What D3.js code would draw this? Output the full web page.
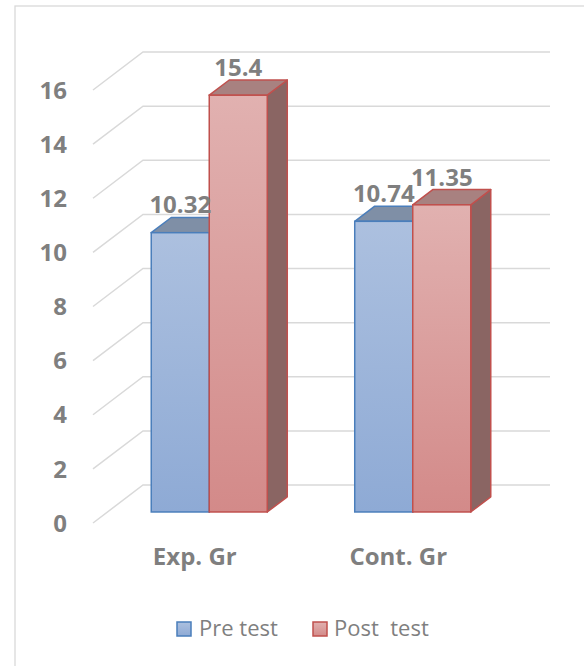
<!DOCTYPE html>
<html>
<head>
<meta charset="utf-8">
<script src="https://cdn.jsdelivr.net/npm/d3@7"></script>
<style>
  html, body { margin: 0; padding: 0; background: #ffffff; }
  svg { display: block; }
</style>
</head>
<body>
<svg id="chart" width="584" height="666"></svg>
<script>
const categories = ["Exp. Gr", "Cont. Gr"];
const seriesNames = ["Pre test", "Post  test"];
const preValues = [10.32, 10.74];
const postValues = [15.4, 11.35];
const valueLabels = [["10.32", "15.4"], ["10.74", "11.35"]];
const yTicks = [0, 2, 4, 6, 8, 10, 12, 14, 16];

const svg = d3.select("#chart");
const W = 584, H = 666;

// 3D projection parameters
const depthDx = 50, depthDy = -38;
const zFront = 0.29, zBack = 0.69;

const y = d3.scaleLinear().domain([0, 16]).range([523, 90]);
const x0 = d3.scaleBand().domain(categories).range([93, 500]).paddingInner(0).paddingOuter(0);
const x1 = d3.scaleBand().domain(seriesNames).range([0, x0.bandwidth()]).paddingInner(0).paddingOuter(0.754);

const textGray = "#7f7f7f";
const gridColor = "#d9d9d9";

// chart frame
svg.append("rect").attr("x", 15).attr("y", 6).attr("width", 620).attr("height", 700)
  .attr("fill", "#fff").attr("stroke", gridColor).attr("stroke-width", 1.3);

// gradients
const defs = svg.append("defs");
function grad(id, c1, c2) {
  const g = defs.append("linearGradient").attr("id", id).attr("x1", 0).attr("y1", 0).attr("x2", 0).attr("y2", 1);
  g.append("stop").attr("offset", "0%").attr("stop-color", c1);
  g.append("stop").attr("offset", "100%").attr("stop-color", c2);
}
grad("gPre", "#acc0df", "#8eaad5");
grad("gPost", "#e1b1b0", "#d38a89");

const styles = [
  { fill: "url(#gPre)", top: "#7f8fa6", side: "#6b7b94", stroke: "#4a7ebb" },
  { fill: "url(#gPost)", top: "#a88180", side: "#8a6563", stroke: "#c0504d" }
];

// gridlines
const gx0 = x0.range()[0], gx1 = x0.range()[1];
const grid = svg.append("g");
yTicks.forEach(t => {
  const yf = y(t);
  grid.append("path")
    .attr("d", `M${gx0},${yf} L${gx0 + depthDx},${yf + depthDy} L${gx1 + depthDx},${yf + depthDy}`)
    .attr("fill", "none").attr("stroke", gridColor).attr("stroke-width", 1.5);
});

// y tick labels
svg.append("g").selectAll("text").data(yTicks).join("text")
  .attr("x", 67).attr("y", d => y(d))
  .attr("dy", "0.36em")
  .attr("text-anchor", "end")
  .attr("font-family", "'Open Sans', sans-serif").attr("font-weight", 700)
  .attr("font-size", 24).attr("fill", textGray)
  .text(d => d);

// bars
const offX = zFront * depthDx, offY = zFront * depthDy;
const dX = (zBack - zFront) * depthDx, dY = (zBack - zFront) * depthDy;
const barsG = svg.append("g");
categories.forEach((cat, ci) => {
  const vals = [preValues[ci], postValues[ci]];
  vals.forEach((v, si) => {
    const st = styles[si];
    const xl = x0(cat) + x1(seriesNames[si]) + offX;
    const w = x1.bandwidth();
    const yt = y(v) + offY;
    const yb = y(0) + offY;
    // side face
    barsG.append("path")
      .attr("d", `M${xl + w},${yt} L${xl + w + dX},${yt + dY} L${xl + w + dX},${yb + dY} L${xl + w},${yb} Z`)
      .attr("fill", st.side).attr("stroke", st.stroke).attr("stroke-width", 1.5).attr("stroke-linejoin", "round");
    // top face
    barsG.append("path")
      .attr("d", `M${xl},${yt} L${xl + w},${yt} L${xl + w + dX},${yt + dY} L${xl + dX},${yt + dY} Z`)
      .attr("fill", st.top).attr("stroke", st.stroke).attr("stroke-width", 1.5).attr("stroke-linejoin", "round");
    // front face
    barsG.append("rect")
      .attr("x", xl).attr("y", yt).attr("width", w).attr("height", yb - yt)
      .attr("fill", st.fill).attr("stroke", st.stroke).attr("stroke-width", 1.5);
  });
});

// value labels
categories.forEach((cat, ci) => {
  const vals = [preValues[ci], postValues[ci]];
  vals.forEach((v, si) => {
    const xc = x0(cat) + x1(seriesNames[si]) + offX + x1.bandwidth() / 2;
    const ytop = y(v) + offY + dY;
    svg.append("text")
      .attr("x", xc).attr("y", ytop - 4)
      .attr("text-anchor", "middle")
      .attr("font-family", "'Open Sans', sans-serif").attr("font-weight", 700)
      .attr("font-size", 24).attr("fill", textGray)
      .text(valueLabels[ci][si]);
  });
});

// category labels
svg.append("g").selectAll("text").data(categories).join("text")
  .attr("x", d => x0(d) + x0.bandwidth() / 2)
  .attr("y", 565)
  .attr("text-anchor", "middle")
  .attr("font-family", "'Open Sans', sans-serif").attr("font-weight", 700)
  .attr("font-size", 24).attr("fill", textGray)
  .text(d => d);

// legend
const legendItems = [
  { name: seriesNames[0], sx: 177, tx: 199, st: styles[0] },
  { name: seriesNames[1], sx: 313, tx: 334, st: styles[1] }
];
const lg = svg.append("g");
legendItems.forEach(it => {
  lg.append("rect").attr("x", it.sx).attr("y", 622).attr("width", 14).attr("height", 14)
    .attr("fill", it.st.fill).attr("stroke", it.st.stroke).attr("stroke-width", 1.5);
  lg.append("text").attr("x", it.tx).attr("y", 636)
    .attr("font-family", "'Open Sans', sans-serif").attr("font-size", 22)
    .attr("fill", textGray).attr("xml:space", "preserve").style("white-space", "pre")
    .text(it.name);
});
</script>
</body>
</html>
